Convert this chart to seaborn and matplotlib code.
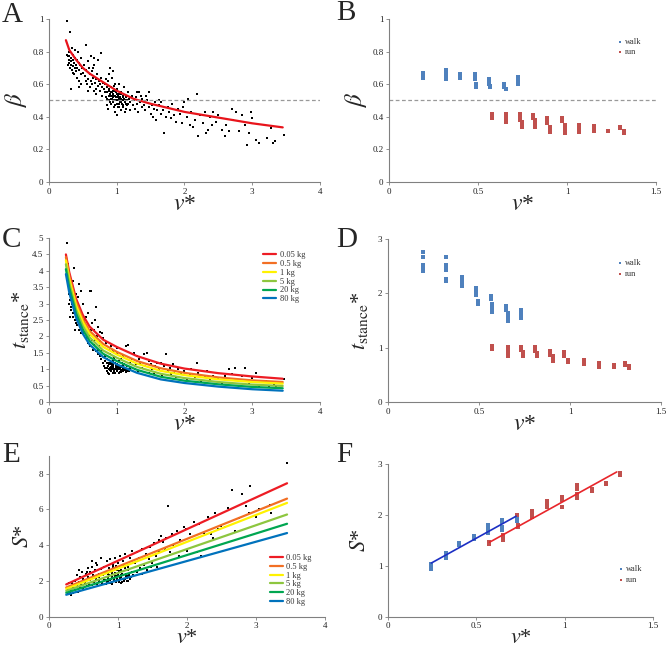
import pandas as pd
import seaborn as sns
import matplotlib.pyplot as plt
from matplotlib.ticker import MultipleLocator, StrMethodFormatter

# ---------------- data ----------------
# panel A: duty factor beta vs dimensionless speed v*
a_v = [0.27, 0.31, 0.27, 0.28, 0.29, 0.30, 0.30, 0.31, 0.32, 0.32, 0.33, 0.33, 0.34, 0.35, 0.35, 0.36, 0.36, 0.37, 0.38, 0.38,
       0.39, 0.40, 0.40, 0.41, 0.42, 0.42, 0.43, 0.44, 0.45, 0.45, 0.46, 0.47, 0.48, 0.48, 0.49, 0.50, 0.28, 0.29, 0.34, 0.37, 0.44,
       0.52, 0.53, 0.54, 0.55, 0.55, 0.56, 0.57, 0.58, 0.60, 0.60, 0.62, 0.62, 0.63, 0.64, 0.65, 0.66, 0.67, 0.68, 0.70, 0.70,
       0.71, 0.72, 0.73, 0.74, 0.75, 0.76, 0.77, 0.77, 0.78, 0.79, 0.80, 0.57, 0.65, 0.69, 0.59, 0.66,
       0.81, 0.82, 0.83, 0.84, 0.85, 0.85, 0.86, 0.87, 0.88, 0.88, 0.89, 0.90, 0.90, 0.91, 0.92, 0.92, 0.93, 0.94, 0.94, 0.95,
       0.95, 0.96, 0.97, 0.98, 0.98, 0.99, 1.00, 1.00, 1.01, 1.01, 1.02, 1.03, 1.03, 1.04, 1.05, 1.06, 1.06, 1.07, 1.08, 1.09,
       1.10, 1.10, 1.11, 1.12, 1.13, 1.14, 1.15, 1.16, 1.17, 1.18, 1.19, 1.20, 0.87, 0.93, 0.97, 1.04, 0.89, 0.96, 1.12, 0.84,
       0.86, 0.88, 0.90, 0.91, 0.93, 0.95, 0.96, 0.97, 0.99, 1.00, 1.01, 1.02, 1.04, 1.05, 1.07, 1.08, 1.09, 1.11, 1.13, 1.15,
       0.92, 0.94, 0.98, 1.03, 1.06, 0.99, 1.02, 0.95, 1.10, 1.14,
       1.22, 1.24, 1.25, 1.27, 1.28, 1.30, 1.32, 1.33, 1.35, 1.37, 1.38, 1.40, 1.42, 1.43, 1.45, 1.47, 1.48, 1.50, 1.52, 1.53,
       1.55, 1.57, 1.58, 1.60, 1.30, 1.36,
       1.62, 1.63, 1.65, 1.66, 1.68, 1.70, 1.72, 1.75, 1.77, 1.80, 1.82, 1.85, 1.88, 1.90, 1.93, 1.96, 2.00, 2.03, 2.05, 2.08,
       2.10, 2.15, 2.18, 2.20, 2.23, 2.27, 2.30, 2.32, 2.34, 2.38, 2.42, 2.46, 2.50, 2.55, 2.60, 2.62, 2.65, 2.70, 2.72, 2.76,
       2.80, 2.85, 2.90, 2.93, 2.95, 3.00, 3.05, 3.10, 3.22, 3.28, 3.30, 3.33, 3.47, 2.12, 2.40, 2.98, 1.98]
a_beta = [0.99, 0.92, 0.78, 0.77, 0.75, 0.73, 0.77, 0.70, 0.57, 0.74, 0.76, 0.72, 0.69, 0.75, 0.71, 0.78, 0.67, 0.73, 0.70, 0.76,
          0.81, 0.72, 0.68, 0.75, 0.70, 0.64, 0.80, 0.73, 0.69, 0.62, 0.72, 0.66, 0.76, 0.60, 0.70, 0.67, 0.72, 0.80, 0.82, 0.66, 0.58,
          0.72, 0.65, 0.62, 0.84, 0.69, 0.60, 0.74, 0.63, 0.66, 0.58, 0.77, 0.62, 0.60, 0.68, 0.64, 0.56, 0.72, 0.61, 0.63, 0.57,
          0.66, 0.59, 0.75, 0.62, 0.56, 0.60, 0.79, 0.64, 0.58, 0.53, 0.61, 0.56, 0.70, 0.54, 0.70, 0.76,
          0.57, 0.55, 0.60, 0.52, 0.58, 0.47, 0.55, 0.62, 0.53, 0.50, 0.57, 0.70, 0.54, 0.51, 0.58, 0.48, 0.55, 0.68, 0.52, 0.50,
          0.56, 0.46, 0.53, 0.60, 0.50, 0.55, 0.52, 0.48, 0.57, 0.41, 0.50, 0.54, 0.46, 0.52, 0.49, 0.55, 0.44, 0.51, 0.48, 0.53,
          0.50, 0.46, 0.58, 0.49, 0.52, 0.45, 0.50, 0.55, 0.48, 0.51, 0.44, 0.49, 0.45, 0.64, 0.43, 0.60, 0.66, 0.59, 0.43, 0.63,
          0.51, 0.56, 0.49, 0.55, 0.51, 0.53, 0.50, 0.56, 0.52, 0.54, 0.50, 0.53, 0.48, 0.52, 0.54, 0.50, 0.47, 0.51, 0.48, 0.47,
          0.53, 0.49, 0.47, 0.51, 0.49, 0.50, 0.46, 0.54, 0.52, 0.50,
          0.53, 0.47, 0.50, 0.45, 0.52, 0.48, 0.43, 0.55, 0.49, 0.46, 0.51, 0.47, 0.44, 0.53, 0.50, 0.46, 0.55, 0.42, 0.47, 0.40,
          0.45, 0.49, 0.38, 0.44, 0.55, 0.53,
          0.47, 0.50, 0.42, 0.49, 0.44, 0.30, 0.40, 0.46, 0.43, 0.39, 0.48, 0.41, 0.37, 0.45, 0.42, 0.36, 0.49, 0.40, 0.51, 0.35,
          0.43, 0.38, 0.54, 0.28, 0.41, 0.36, 0.43, 0.30, 0.32, 0.40, 0.43, 0.37, 0.41, 0.32, 0.28, 0.35, 0.31, 0.45, 0.38, 0.43,
          0.31, 0.41, 0.35, 0.23, 0.30, 0.39, 0.26, 0.24, 0.27, 0.33, 0.24, 0.25, 0.29, 0.34, 0.35, 0.43, 0.46]
a_fit_v = [0.25, 0.30, 0.40, 0.50, 0.60, 0.75, 1.00, 1.25, 1.50, 2.00, 2.50, 3.00, 3.45]
a_fit_beta = [0.87, 0.81, 0.75, 0.70, 0.665, 0.625, 0.56, 0.51, 0.48, 0.43, 0.395, 0.36, 0.335]
beta_threshold = 0.5

# panel C: dimensionless stance time vs v*
c_v = [0.27, 0.28, 0.29, 0.30, 0.30, 0.31, 0.32, 0.33, 0.33, 0.34, 0.35, 0.35, 0.36, 0.37, 0.37, 0.38, 0.39, 0.40, 0.40, 0.41,
       0.42, 0.42, 0.43, 0.44, 0.45, 0.45, 0.46, 0.47, 0.48, 0.48, 0.50, 0.50, 0.29, 0.32, 0.36, 0.27, 0.31, 0.38, 0.43,
       0.52, 0.53, 0.55, 0.56, 0.57, 0.58, 0.60, 0.60, 0.61, 0.62, 0.63, 0.64, 0.65, 0.66, 0.67, 0.68, 0.70, 0.70, 0.71, 0.72,
       0.73, 0.74, 0.75, 0.75, 0.76, 0.77, 0.78, 0.79, 0.80, 0.80, 0.55, 0.68, 0.62, 0.73,
       0.81, 0.82, 0.83, 0.84, 0.85, 0.85, 0.86, 0.87, 0.88, 0.88, 0.89, 0.90, 0.90, 0.91, 0.92, 0.92, 0.93, 0.94, 0.95, 0.95,
       0.96, 0.97, 0.98, 0.98, 0.99, 1.00, 1.00, 1.01, 1.02, 1.03, 1.03, 1.04, 1.05, 1.06, 1.07, 1.08, 1.09, 1.10, 1.10, 1.12,
       1.13, 1.14, 1.15, 1.16, 1.17, 1.18, 1.19, 1.20, 0.83, 0.87, 0.94, 1.06, 1.00, 0.89, 0.96, 1.11,
       0.86, 0.88, 0.90, 0.91, 0.93, 0.95, 0.96, 0.97, 0.99, 1.00, 1.01, 1.02, 1.04, 1.05, 1.07, 1.08, 1.09, 1.11, 1.13, 1.15,
       0.92, 0.94, 0.98, 1.03, 1.06, 0.99, 1.02, 0.95, 1.10, 1.14,
       1.22, 1.25, 1.27, 1.28, 1.30, 1.32, 1.35, 1.37, 1.40, 1.42, 1.45, 1.47, 1.50, 1.52, 1.55, 1.57, 1.60, 1.33, 1.48,
       1.62, 1.65, 1.67, 1.70, 1.73, 1.75, 1.78, 1.80, 1.83, 1.85, 1.88, 1.90, 1.95, 2.00, 2.03, 2.08, 2.10, 2.15, 2.18, 2.20,
       2.25, 2.30, 2.33, 2.38, 2.42, 2.50, 2.55, 2.60, 2.65, 2.70, 2.75, 2.80, 2.85, 2.90, 2.95, 3.00, 3.05, 3.10, 3.20, 3.25,
       3.32, 3.35, 3.47]
c_t = [4.85, 4.20, 3.90, 3.60, 3.30, 3.10, 2.90, 3.40, 2.80, 3.00, 2.70, 3.20, 2.60, 2.90, 4.10, 2.50, 2.75, 3.30, 2.40, 2.60,
       2.35, 3.00, 2.50, 2.20, 2.55, 3.60, 2.30, 2.10, 2.40, 3.40, 2.20, 3.00, 3.00, 3.60, 3.70, 3.90, 2.60, 2.20, 3.20,
       2.10, 2.50, 1.95, 2.30, 1.80, 2.70, 2.05, 3.40, 1.70, 3.40, 1.90, 2.40, 1.60, 2.20, 1.75, 2.50, 1.55, 2.90, 2.00, 1.45,
       2.30, 1.70, 1.40, 2.15, 1.85, 1.30, 2.10, 1.60, 1.20, 1.95, 2.60, 1.90, 2.20, 1.60,
       1.10, 1.40, 1.05, 1.80, 1.20, 0.95, 1.30, 1.10, 1.60, 1.00, 1.20, 1.05, 1.45, 0.95, 1.15, 1.70, 1.00, 1.25, 0.90, 1.10,
       1.35, 1.00, 1.20, 0.88, 1.05, 1.15, 0.95, 1.50, 1.00, 1.10, 0.90, 1.25, 1.00, 1.10, 0.92, 1.20, 1.00, 1.40, 0.95, 1.05,
       1.70, 0.92, 1.10, 1.00, 1.75, 0.95, 1.20, 1.05, 1.25, 0.90, 1.55, 1.30, 1.65, 0.85, 0.98, 1.15,
       1.05, 1.15, 0.98, 1.08, 1.12, 1.02, 0.94, 1.18, 1.08, 1.02, 0.96, 1.12, 1.04, 0.93, 1.06, 0.98, 1.12, 0.97, 1.02, 0.95,
       1.22, 1.06, 1.00, 1.02, 0.96, 1.12, 1.06, 1.15, 1.03, 0.98,
       1.30, 1.50, 1.00, 1.15, 1.40, 0.95, 1.20, 1.05, 1.45, 1.10, 1.50, 0.90, 1.15, 1.00, 0.85, 1.10, 1.20, 1.30, 1.25,
       1.00, 1.20, 0.80, 1.10, 1.45, 0.95, 1.05, 0.85, 1.15, 0.90, 0.75, 1.00, 0.85, 0.95, 0.70, 0.85, 1.00, 0.75, 1.20, 0.90,
       0.60, 0.75, 0.95, 0.70, 0.80, 0.72, 0.55, 0.78, 1.00, 0.85, 1.05, 0.50, 0.80, 1.05, 0.55, 0.72, 0.90, 0.48, 0.65, 0.50,
       0.55, 0.45, 0.70]
c_fit_v = [0.25, 0.30, 0.40, 0.50, 0.60, 0.80, 1.00, 1.30, 1.65, 2.00, 2.50, 3.00, 3.45]
c_fit_005kg = [4.50, 3.95, 3.15, 2.65, 2.30, 1.90, 1.68, 1.40, 1.17, 1.02, 0.88, 0.78, 0.71]
c_fit_05kg = [4.42, 3.85, 3.05, 2.53, 2.17, 1.77, 1.53, 1.25, 1.03, 0.89, 0.75, 0.66, 0.61]
c_fit_1kg = [4.32, 3.75, 2.95, 2.44, 2.08, 1.68, 1.45, 1.17, 0.95, 0.82, 0.69, 0.61, 0.56]
c_fit_5kg = [4.20, 3.62, 2.82, 2.32, 1.97, 1.57, 1.35, 1.07, 0.86, 0.73, 0.61, 0.53, 0.49]
c_fit_20kg = [4.05, 3.48, 2.70, 2.20, 1.86, 1.47, 1.25, 0.98, 0.77, 0.65, 0.54, 0.46, 0.42]
c_fit_80kg = [3.90, 3.33, 2.57, 2.08, 1.75, 1.37, 1.15, 0.89, 0.69, 0.58, 0.47, 0.39, 0.345]

# panel E: dimensionless stride length vs v*
e_v = [0.27, 0.28, 0.30, 0.30, 0.32, 0.33, 0.35, 0.35, 0.37, 0.38, 0.40, 0.40, 0.42, 0.43, 0.45, 0.45, 0.47, 0.48, 0.50, 0.50,
       0.32, 0.38, 0.44, 0.29,
       0.52, 0.53, 0.55, 0.56, 0.57, 0.58, 0.60, 0.60, 0.62, 0.63, 0.64, 0.65, 0.67, 0.68, 0.70, 0.70, 0.72, 0.73, 0.75, 0.75,
       0.77, 0.78, 0.80, 0.80, 0.62, 0.55, 0.68, 0.73,
       0.82, 0.83, 0.84, 0.85, 0.86, 0.87, 0.88, 0.89, 0.90, 0.91, 0.92, 0.93, 0.94, 0.95, 0.96, 0.97, 0.98, 0.99, 1.00, 1.00,
       1.02, 1.03, 1.04, 1.05, 1.06, 1.07, 1.08, 1.10, 1.10, 1.12, 1.13, 1.14, 1.15, 1.17, 1.18, 1.20, 1.20, 0.90, 0.97, 1.05,
       0.85, 1.15,
       0.81, 0.84, 0.86, 0.88, 0.90, 0.92, 0.94, 0.96, 0.98, 1.00, 1.01, 1.03, 1.05, 1.07, 1.09, 1.11, 1.13, 1.16, 1.19, 0.87,
       0.91, 0.95, 0.99, 1.02, 1.06, 1.10, 1.14, 0.93, 0.97, 1.08,
       1.22, 1.25, 1.27, 1.28, 1.30, 1.32, 1.35, 1.37, 1.40, 1.42, 1.45, 1.47, 1.50, 1.52, 1.55, 1.57, 1.60, 1.60, 1.35, 1.48,
       1.62, 1.65, 1.68, 1.70, 1.73, 1.75, 1.78, 1.80, 1.85, 1.88, 1.90, 1.95, 2.00, 2.05, 2.10, 2.15, 2.20, 2.25, 2.30, 2.35,
       2.40, 2.45, 2.50, 2.55, 2.60, 2.65, 2.70, 2.75, 2.80, 2.85, 2.90, 2.92, 3.00, 3.05, 3.20, 3.22, 3.45, 2.38, 1.98, 2.18]
e_s = [1.25, 1.50, 1.35, 1.70, 1.45, 1.90, 1.30, 1.60, 2.00, 1.50, 1.75, 2.35, 1.40, 1.95, 1.60, 2.20, 1.80, 2.50, 1.55, 2.10,
       1.20, 1.80, 2.60, 1.90,
       1.90, 2.40, 1.70, 2.20, 2.70, 1.85, 2.50, 2.05, 1.75, 2.80, 2.30, 1.95, 2.60, 2.10, 1.80, 2.90, 2.40, 2.00, 3.30, 2.65,
       1.90, 2.30, 2.80, 2.05, 3.10, 2.50, 3.00, 2.20,
       1.80, 2.50, 3.10, 2.00, 2.20, 2.70, 1.90, 3.20, 2.10, 2.40, 1.85, 2.90, 2.00, 2.25, 3.30, 1.95, 2.60, 2.10, 2.35, 3.00,
       2.00, 3.40, 2.20, 2.60, 1.95, 3.10, 2.30, 2.10, 3.50, 2.40, 2.00, 2.80, 2.25, 3.30, 2.10, 2.50, 3.70, 2.60, 2.20, 1.90,
       2.40, 2.00,
       2.05, 1.95, 2.15, 2.05, 1.90, 2.20, 2.10, 2.00, 2.25, 2.05, 1.95, 2.15, 2.30, 2.10, 2.00, 2.25, 2.15, 2.30, 2.20, 2.35,
       2.50, 2.45, 2.60, 2.55, 2.40, 2.70, 2.60, 2.75, 2.85, 2.90,
       2.30, 3.00, 3.60, 2.50, 3.30, 2.70, 3.80, 2.90, 3.50, 2.60, 3.20, 3.90, 3.00, 4.10, 3.40, 2.80, 4.30, 3.60, 2.40, 2.80,
       4.50, 4.20, 3.80, 4.40, 6.20, 3.60, 4.60, 4.00, 4.80, 3.40, 4.30, 5.00, 3.70, 4.60, 5.30, 3.60, 3.40, 4.70, 5.60, 4.60,
       5.80, 4.90, 5.10, 5.00, 6.10, 7.10, 4.80, 5.50, 6.85, 6.20, 5.80, 7.30, 5.60, 6.00, 6.25, 5.80, 8.60, 4.40, 4.90, 5.20]
e_fit_v = [0.25, 3.45]
e_fit_005kg = [1.80, 7.47]
e_fit_05kg = [1.63, 6.61]
e_fit_1kg = [1.55, 6.37]
e_fit_5kg = [1.44, 5.72]
e_fit_20kg = [1.33, 5.20]
e_fit_80kg = [1.22, 4.68]

mass_labels = ['0.05 kg', '0.5 kg', '1 kg', '5 kg', '20 kg', '80 kg']
mass_colors = ['#ed1c24', '#f26f24', '#fff200', '#8dc63f', '#00a651', '#0072bc']

# panel B: beta, human walk / run
b_walk_v = [0.19, 0.19, 0.19, 0.32, 0.32, 0.32, 0.32, 0.32, 0.40, 0.40, 0.40, 0.483, 0.483, 0.483, 0.49, 0.49,
            0.562, 0.562, 0.562, 0.57, 0.57, 0.648, 0.648, 0.648, 0.655, 0.727, 0.727, 0.727, 0.727]
b_walk_beta = [0.67, 0.655, 0.64, 0.69, 0.675, 0.66, 0.645, 0.63, 0.665, 0.65, 0.635, 0.665, 0.645, 0.63, 0.60, 0.585,
               0.63, 0.615, 0.60, 0.59, 0.58, 0.60, 0.59, 0.58, 0.57, 0.645, 0.63, 0.61, 0.60]
b_run_v = [0.577, 0.577, 0.577, 0.655, 0.655, 0.655, 0.655, 0.735, 0.735, 0.735, 0.745, 0.745, 0.745,
           0.807, 0.807, 0.82, 0.82, 0.82, 0.888, 0.888, 0.888, 0.905, 0.905, 0.905,
           0.97, 0.97, 0.987, 0.987, 0.987, 0.987, 1.067, 1.067, 1.067, 1.067, 1.152, 1.152, 1.152,
           1.232, 1.298, 1.298, 1.318, 1.318]
b_run_beta = [0.42, 0.405, 0.395, 0.42, 0.40, 0.385, 0.37, 0.415, 0.40, 0.38, 0.37, 0.355, 0.34,
              0.41, 0.395, 0.38, 0.36, 0.34, 0.39, 0.375, 0.36, 0.34, 0.32, 0.305,
              0.39, 0.375, 0.35, 0.33, 0.31, 0.30, 0.35, 0.335, 0.32, 0.305, 0.345, 0.33, 0.315,
              0.315, 0.34, 0.33, 0.31, 0.30]

# panel D: t*stance, walk / run
d_walk_v = [0.193, 0.193, 0.193, 0.193, 0.193, 0.321, 0.321, 0.321, 0.321, 0.321, 0.321,
            0.404, 0.404, 0.404, 0.404, 0.404, 0.483, 0.483, 0.483, 0.483, 0.492, 0.492,
            0.565, 0.565, 0.574, 0.574, 0.574, 0.574, 0.648, 0.648, 0.658, 0.658, 0.658,
            0.731, 0.731, 0.731, 0.731]
d_walk_t = [2.77, 2.67, 2.53, 2.48, 2.42, 2.66, 2.52, 2.47, 2.43, 2.27, 2.23,
            2.30, 2.26, 2.22, 2.17, 2.14, 2.09, 2.05, 2.00, 1.97, 1.86, 1.80,
            1.95, 1.90, 1.80, 1.75, 1.70, 1.66, 1.76, 1.70, 1.63, 1.57, 1.50,
            1.70, 1.65, 1.60, 1.55]
d_run_v = [0.573, 0.573, 0.573, 0.657, 0.657, 0.657, 0.657, 0.657, 0.731, 0.731, 0.731, 0.74, 0.74, 0.74,
           0.808, 0.808, 0.808, 0.82, 0.82, 0.89, 0.89, 0.89, 0.905, 0.905, 0.905,
           0.967, 0.967, 0.967, 0.99, 0.99, 1.074, 1.074, 1.074, 1.157, 1.157, 1.157,
           1.239, 1.239, 1.30, 1.30, 1.322, 1.322]
d_run_t = [1.04, 1.00, 0.97, 1.02, 0.97, 0.92, 0.88, 0.84, 1.02, 0.98, 0.95, 0.92, 0.88, 0.84,
           1.02, 0.97, 0.93, 0.90, 0.85, 0.93, 0.90, 0.86, 0.84, 0.80, 0.76,
           0.92, 0.88, 0.85, 0.78, 0.73, 0.77, 0.74, 0.70, 0.72, 0.68, 0.65,
           0.68, 0.65, 0.72, 0.69, 0.66, 0.62]

# panel F: S*, walk / run with linear fits
f_walk_v = [0.242, 0.242, 0.242, 0.327, 0.327, 0.327, 0.403, 0.403, 0.486, 0.486,
            0.567, 0.567, 0.567, 0.567, 0.648, 0.648, 0.648, 0.648, 0.728, 0.728, 0.728]
f_walk_s = [1.03, 0.98, 0.93, 1.25, 1.20, 1.15, 1.45, 1.40, 1.58, 1.53,
            1.80, 1.75, 1.70, 1.65, 1.90, 1.85, 1.75, 1.70, 1.97, 1.92, 1.87]
f_run_v = [0.573, 0.573, 0.652, 0.652, 0.652, 0.728, 0.737, 0.737, 0.813, 0.813, 0.813,
           0.898, 0.898, 0.898, 0.983, 0.983, 0.983, 1.068, 1.068, 1.068, 1.068,
           1.153, 1.153, 1.234, 1.234, 1.314, 1.314]
f_run_s = [1.47, 1.42, 1.60, 1.55, 1.50, 2.00, 1.79, 1.75, 2.07, 2.00, 1.95,
           2.27, 2.20, 2.15, 2.35, 2.28, 2.15, 2.58, 2.50, 2.40, 2.33,
           2.50, 2.47, 2.63, 2.60, 2.82, 2.77]
f_walk_fit_v = [0.245, 0.725]
f_walk_fit_s = [1.05, 1.97]
f_run_fit_v = [0.575, 1.295]
f_run_fit_s = [1.46, 2.84]

WALK = '#4f81bd'
RUN = '#c0504d'
GREY = '#808080'

# ---------------- figure ----------------
sns.set_style('ticks')
plt.rcParams['font.family'] = ['Liberation Serif', 'DejaVu Serif']
plt.rcParams['mathtext.fontset'] = 'stix'

fig = plt.figure(figsize=(6.69, 6.5), dpi=100)
ax_a = fig.add_axes([0.0732, 0.720, 0.4051, 0.2508])
ax_b = fig.add_axes([0.5815, 0.720, 0.3991, 0.2508])
ax_c = fig.add_axes([0.0732, 0.3815, 0.4051, 0.2523])
ax_d = fig.add_axes([0.5800, 0.3815, 0.4081, 0.2508])
ax_e = fig.add_axes([0.0732, 0.0515, 0.4126, 0.2470])
ax_f = fig.add_axes([0.5800, 0.0515, 0.3961, 0.2350])


def style_axes(ax, xmax, xstep, ymax, ystep, xpad=-1, xsize=17):
    ax.set_xlim(0, xmax)
    ax.set_ylim(0, ymax)
    ax.xaxis.set_major_locator(MultipleLocator(xstep))
    ax.yaxis.set_major_locator(MultipleLocator(ystep))
    ax.xaxis.set_major_formatter(StrMethodFormatter('{x:g}'))
    ax.yaxis.set_major_formatter(StrMethodFormatter('{x:g}'))
    sns.despine(ax=ax)
    for side in ['left', 'bottom']:
        ax.spines[side].set_color(GREY)
        ax.spines[side].set_linewidth(0.8)
    ax.tick_params(length=2.5, width=0.6, color=GREY, labelsize=6.5, pad=1.5, labelcolor='#222222')
    ax.set_xlabel(r'$v$*', fontsize=xsize, labelpad=xpad)


def mass_legend(ax, anchor):
    ax.legend(loc='upper left', bbox_to_anchor=anchor, frameon=False, fontsize=6,
              handlelength=1.6, handletextpad=0.4, labelspacing=0.1, borderpad=0, borderaxespad=0,
              labelcolor='#333333')


def gait_legend(ax, anchor):
    ax.legend(loc='upper left', bbox_to_anchor=anchor, frameon=False, fontsize=6,
              handlelength=0.6, handletextpad=0.3, labelspacing=0.3, borderpad=0, borderaxespad=0,
              markerscale=0.8, labelcolor='#333333')


# A
sns.scatterplot(x=a_v, y=a_beta, color='black', marker='s', s=3, linewidth=0, ax=ax_a)
sns.lineplot(x=a_fit_v, y=a_fit_beta, color='#e8141b', lw=1.6, ax=ax_a)
ax_a.axhline(beta_threshold, color='#999999', ls='--', lw=0.9, dashes=(3, 2))
style_axes(ax_a, 4, 1, 1, 0.2)
ax_a.set_ylabel(r'$\beta$', fontsize=18, labelpad=2)

# B
sns.scatterplot(x=b_walk_v, y=b_walk_beta, color=WALK, marker='s', s=5, linewidth=0, label='walk', ax=ax_b)
sns.scatterplot(x=b_run_v, y=b_run_beta, color=RUN, marker='s', s=5, linewidth=0, label='run', ax=ax_b)
ax_b.axhline(beta_threshold, color='#999999', ls='--', lw=0.9, dashes=(3, 2))
style_axes(ax_b, 1.5, 0.5, 1, 0.2)
ax_b.set_ylabel(r'$\beta$', fontsize=18, labelpad=2)
gait_legend(ax_b, (0.855, 0.885))

# C
c_fits = [c_fit_005kg, c_fit_05kg, c_fit_1kg, c_fit_5kg, c_fit_20kg, c_fit_80kg]
for fit, lab, col in zip(c_fits, mass_labels, mass_colors):
    sns.lineplot(x=c_fit_v, y=fit, color=col, lw=1.6, label=lab, ax=ax_c)
sns.scatterplot(x=c_v, y=c_t, color='black', marker='s', s=3, linewidth=0, ax=ax_c)
style_axes(ax_c, 4, 1, 5, 0.5)
ax_c.set_ylabel(r'$t_{\mathrm{stance}}$*', fontsize=16, labelpad=1)
mass_legend(ax_c, (0.79, 0.92))

# D
sns.scatterplot(x=d_walk_v, y=d_walk_t, color=WALK, marker='s', s=5, linewidth=0, label='walk', ax=ax_d)
sns.scatterplot(x=d_run_v, y=d_run_t, color=RUN, marker='s', s=5, linewidth=0, label='run', ax=ax_d)
style_axes(ax_d, 1.5, 0.5, 3, 1)
ax_d.set_ylabel(r'$t_{\mathrm{stance}}$*', fontsize=16, labelpad=6)
gait_legend(ax_d, (0.84, 0.875))

# E
e_fits = [e_fit_005kg, e_fit_05kg, e_fit_1kg, e_fit_5kg, e_fit_20kg, e_fit_80kg]
for fit, lab, col in zip(e_fits, mass_labels, mass_colors):
    sns.lineplot(x=e_fit_v, y=fit, color=col, lw=1.6, label=lab, ax=ax_e)
sns.scatterplot(x=e_v, y=e_s, color='black', marker='s', s=3, linewidth=0, ax=ax_e)
style_axes(ax_e, 4, 1, 9, 2, xpad=-1, xsize=16)
ax_e.set_ylabel(r'$S$*', fontsize=16, labelpad=4)
mass_legend(ax_e, (0.80, 0.39))

# F
sns.scatterplot(x=f_walk_v, y=f_walk_s, color=WALK, marker='s', s=5, linewidth=0, label='walk', ax=ax_f)
sns.scatterplot(x=f_run_v, y=f_run_s, color=RUN, marker='s', s=5, linewidth=0, label='run', ax=ax_f)
sns.lineplot(x=f_walk_fit_v, y=f_walk_fit_s, color='#1c2fc4', lw=1.2, ax=ax_f)
sns.lineplot(x=f_run_fit_v, y=f_run_fit_s, color='#e8262b', lw=1.2, ax=ax_f)
style_axes(ax_f, 1.5, 0.5, 3, 1, xpad=-1, xsize=16)
ax_f.set_ylabel(r'$S$*', fontsize=16, labelpad=6)
gait_legend(ax_f, (0.87, 0.335))

# panel letters
for letter, x, y in [('A', 0.003, 0.966), ('B', 0.503, 0.970), ('C', 0.003, 0.620),
                     ('D', 0.503, 0.620), ('E', 0.003, 0.289), ('F', 0.503, 0.289)]:
    fig.text(x, y, letter, fontsize=21, va='baseline', ha='left')

fig.savefig('out.png', dpi=100)
